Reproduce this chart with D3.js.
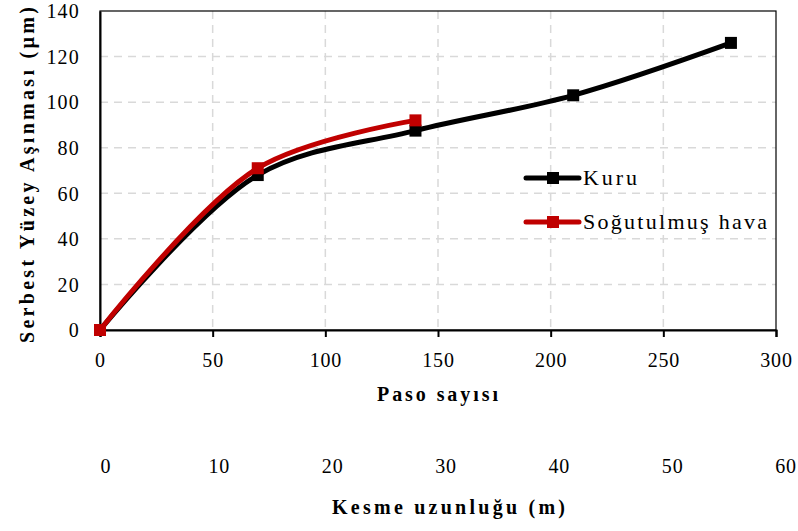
<!DOCTYPE html>
<html>
<head>
<meta charset="utf-8">
<script src="https://cdn.jsdelivr.net/npm/d3@7"></script>
<style>
  body { margin: 0; background: #fff; }
</style>
</head>
<body>
<svg id="chart" width="798" height="531" font-family="Liberation Serif, Times New Roman, serif"></svg>
<script>
// chart data
const pasoKuru = [0, 70, 140, 210, 280]
const kuru = [0, 68, 87.5, 103, 126]
const pasoHava = [0, 70, 140]
const hava = [0, 71, 92]
const yTicks = [0, 20, 40, 60, 80, 100, 120, 140]
const xTicks = [0, 50, 100, 150, 200, 250, 300]
const kesmeTicks = [0, 10, 20, 30, 40, 50, 60]

const plotLeft = 100, plotRight = 776, plotTop = 11, plotBottom = 330

const font = (size, bold) =>
  "font-family:'Liberation Serif', serif;font-size:" + size + "px" + (bold ? ";font-weight:bold" : "")

const svg = d3.select("#chart")

const x = d3.scaleLinear().domain([0, 300]).range([plotLeft, plotRight])
const y = d3.scaleLinear().domain([0, 140]).range([plotBottom, plotTop])
const x2 = d3.scaleLinear().domain([0, 60]).range([106, 786])

// grid
svg.append("g")
  .selectAll("line")
  .data(yTicks.filter(d => d > 0 && d < 140))
  .enter().append("line")
  .attr("x1", plotLeft).attr("x2", plotRight)
  .attr("y1", d => y(d)).attr("y2", d => y(d))
  .attr("stroke", "#d9d9d9").attr("stroke-width", 1.5)
  .attr("stroke-dasharray", "8,6")

svg.append("g")
  .selectAll("line")
  .data(xTicks.filter(d => d > 0 && d < 300))
  .enter().append("line")
  .attr("x1", d => x(d)).attr("x2", d => x(d))
  .attr("y1", plotTop).attr("y2", plotBottom)
  .attr("stroke", "#d9d9d9").attr("stroke-width", 1.5)
  .attr("stroke-dasharray", "8,6")

// frame
svg.append("rect")
  .attr("x", plotLeft).attr("y", plotTop)
  .attr("width", plotRight - plotLeft).attr("height", plotBottom - plotTop)
  .attr("fill", "none").attr("stroke", "#000").attr("stroke-width", 1.2)

// axes
const xAxis = svg.append("g")
  .attr("transform", "translate(0," + plotBottom + ")")
  .call(d3.axisBottom(x).tickValues(xTicks).tickSize(7).tickPadding(5))
xAxis.attr("font-family", null).attr("font-size", null)
xAxis.select(".domain").attr("stroke", "#000").attr("stroke-width", 2)
xAxis.selectAll(".tick line").attr("stroke-width", 2)
xAxis.selectAll("text").attr("dy", null).attr("y", 37)
  .attr("style", font(20)).attr("letter-spacing", "0.8px")

const yAxis = svg.append("g")
  .attr("transform", "translate(" + plotLeft + ",0)")
  .call(d3.axisLeft(y).tickValues(yTicks).tickSize(0).tickPadding(20))
yAxis.attr("font-family", null).attr("font-size", null)
yAxis.select(".domain").attr("stroke", "#000").attr("stroke-width", 2)
yAxis.selectAll("text").attr("dy", "0.34em")
  .attr("style", font(20)).attr("letter-spacing", "1.2px")

// second axis labels (Kesme uzunluğu)
svg.append("g")
  .selectAll("text")
  .data(kesmeTicks)
  .enter().append("text")
  .attr("x", d => x2(d))
  .attr("y", 473)
  .attr("text-anchor", "middle")
  .attr("style", font(20))
  .attr("letter-spacing", "0.8px")
  .text(d => d)

// titles
svg.append("text")
  .attr("x", 377).attr("y", 401)
  .attr("textLength", 121).attr("lengthAdjust", "spacing")
  .attr("style", font(20, true))
  .text("Paso sayısı")

svg.append("text")
  .attr("x", 332).attr("y", 514)
  .attr("textLength", 233).attr("lengthAdjust", "spacing")
  .attr("style", font(20, true))
  .text("Kesme uzunluğu (m)")

svg.append("text")
  .attr("transform", "translate(34,343) rotate(-90)")
  .attr("textLength", 336).attr("lengthAdjust", "spacing")
  .attr("style", font(20, true))
  .text("Serbest Yüzey Aşınması (µm)")

// series
const series = [
  { name: "Kuru", xs: pasoKuru, ys: kuru, color: "#000000", len: 54 },
  { name: "Soğutulmuş hava", xs: pasoHava, ys: hava, color: "#c00000", len: 184 }
]

const line = d3.line()
  .x(d => x(d[0]))
  .y(d => y(d[1]))
  .curve(d3.curveCatmullRom.alpha(0.5))

series.forEach(function(s) {
  const pts = s.xs.map((v, i) => [v, s.ys[i]])
  svg.append("path")
    .datum(pts)
    .attr("d", line)
    .attr("fill", "none")
    .attr("stroke", s.color)
    .attr("stroke-width", 5)
    .attr("stroke-linejoin", "round")
  svg.append("g")
    .selectAll("rect")
    .data(pts)
    .enter().append("rect")
    .attr("x", d => x(d[0]) - 6)
    .attr("y", d => y(d[1]) - 6)
    .attr("width", 12).attr("height", 12)
    .attr("fill", s.color)
})

// legend
series.forEach(function(s, i) {
  const ly = 178 + i * 44
  const g = svg.append("g")
  g.append("line")
    .attr("x1", 526).attr("x2", 579)
    .attr("y1", ly).attr("y2", ly)
    .attr("stroke", s.color).attr("stroke-width", 5)
    .attr("stroke-linecap", "round")
  g.append("rect")
    .attr("x", 547).attr("y", ly - 6)
    .attr("width", 12).attr("height", 12)
    .attr("fill", s.color)
  g.append("text")
    .attr("x", 583).attr("y", ly + 7)
    .attr("style", font(22))
    .attr("textLength", s.len).attr("lengthAdjust", "spacing")
    .text(s.name)
})

svg.selectAll("text").attr("fill", "#000")
</script>
</body>
</html>
